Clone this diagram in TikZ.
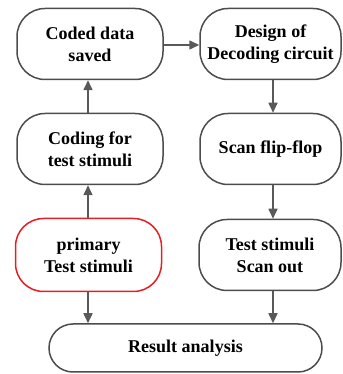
\documentclass[tikz,border=0pt]{standalone}
\usepackage{fontspec}
\setmainfont{Liberation Serif}
\usetikzlibrary{arrows.meta}
\definecolor{startred}{RGB}{228,30,38}

\tikzset{
  stage/.style={draw=black!70, line width=1.5pt, rounded corners=28pt,
    minimum width=146pt, minimum height=71pt, align=center, inner sep=2pt,
    font=\fontsize{18}{22}\selectfont\bfseries},
  flow/.style={draw=black!65, line width=1.6pt,
    -{Triangle[length=10pt, width=9pt]}}
}

\begin{document}
\begin{tikzpicture}[x=1pt, y=1pt]
\useasboundingbox (0,0) rectangle (342,374);

\node[stage] (saved) at (90,330) {Coded data\\saved};
\node[stage, minimum width=141pt] (design) at (270.5,330) {Design of\\Decoding circuit};
\node[stage] (coding) at (90,225) {Coding for\\test stimuli};
\node[stage, minimum width=141pt] (scan) at (270.5,225) {Scan flip-flop};
\node[stage, draw=startred, minimum height=73pt] (primary) at (88.5,119) {primary\\Test stimuli};
\node[stage, minimum width=142pt] (scanout) at (270,119) {Test stimuli\\Scan out};
\node[stage, minimum width=273pt, minimum height=48pt, rounded corners=24pt] (result) at (185.5,26) {Result analysis};

\draw[flow] (primary.north -| 88,0) -- (coding.south -| 88,0);
\draw[flow] (coding.north -| 88,0) -- (saved.south -| 88,0);
\draw[flow] (saved.east |- 0,329) -- (design.west |- 0,329);
\draw[flow] (design.south -| 273,0) -- (scan.north -| 273,0);
\draw[flow] (scan.south -| 273,0) -- (scanout.north -| 273,0);
\draw[flow] (primary.south -| 88,0) -- (result.north -| 88,0);
\draw[flow] (scanout.south -| 273,0) -- (result.north -| 273,0);
\end{tikzpicture}
\end{document}
